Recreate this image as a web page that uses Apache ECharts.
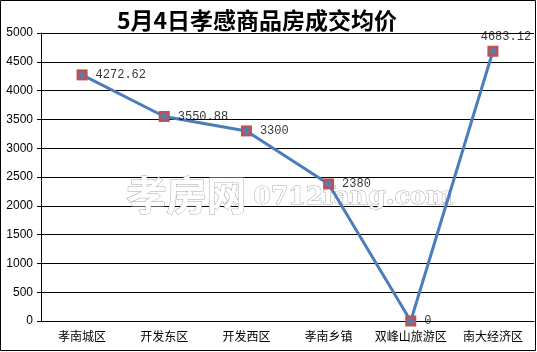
<!DOCTYPE html>
<html>
<head>
<meta charset="utf-8">
<script src="https://cdn.jsdelivr.net/npm/echarts@6/dist/echarts.min.js"></script>
<style>
  html, body { margin: 0; padding: 0; background: #fff; }
  #chart { width: 537px; height: 352px; }
</style>
</head>
<body>
<div id="chart"></div>
<script>
var titleText = '5月4日孝感商品房成交均价';
var categories = ['孝南城区', '开发东区', '开发西区', '孝南乡镇', '双峰山旅游区', '南大经济区'];
var prices = [4272.62, 3550.88, 3300, 2380, 0, 4683.12];
var yTicks = [0, 500, 1000, 1500, 2000, 2500, 3000, 3500, 4000, 4500, 5000];

var myChart = echarts.init(document.getElementById('chart'));

// last point has its label above, the rest to the right
var labelData = prices.map(function (v, i) {
  if (i === prices.length - 1) {
    return { value: v, label: { position: 'top', distance: 4, offset: [13, 0] } };
  }
  return v;
});

var option = {
  animation: false,
  backgroundColor: '#fff',
  title: {
    text: titleText,
    left: 252,
    top: 4,
    textAlign: 'center',
    textStyle: {
      fontFamily: 'Noto Sans CJK SC',
      fontSize: 23,
      fontWeight: 'bold',
      color: '#000'
    }
  },
  graphic: [
    {
      type: 'rect',
      shape: { x: 0.5, y: 0.5, width: 535, height: 350 },
      style: { fill: null, stroke: '#000', lineWidth: 1 },
      silent: true
    },
    {
      type: 'text',
      left: 126,
      top: 174,
      z: 1,
      style: {
        text: '孝房网',
        font: 'bold 40px "Noto Sans CJK SC"',
        fill: '#fff',
        stroke: '#aaa',
        lineWidth: 1
      }
    },
    {
      type: 'text',
      left: 253,
      top: 184,
      z: 1,
      style: {
        text: '0712fang.com',
        font: 'bold 25px "DejaVu Serif"',
        fill: '#fff',
        stroke: '#aaa',
        lineWidth: 1
      }
    }
  ],
  grid: {
    left: 41,
    right: 3,
    top: 33,
    bottom: 31,
    containLabel: false
  },
  xAxis: {
    type: 'category',
    data: categories,
    boundaryGap: true,
    axisLine: { lineStyle: { color: '#000', width: 1 } },
    axisTick: { length: 4, lineStyle: { color: '#000' } },
    axisLabel: {
      interval: 0,
      margin: 9,
      color: '#000',
      fontSize: 12,
      fontFamily: 'Noto Sans CJK SC'
    }
  },
  yAxis: {
    type: 'value',
    min: yTicks[0],
    max: yTicks[yTicks.length - 1],
    interval: 500,
    axisLine: { show: true, lineStyle: { color: '#000', width: 1 } },
    axisTick: { show: true, length: 4, lineStyle: { color: '#000' } },
    axisLabel: {
      margin: 8,
      color: '#000',
      fontSize: 12,
      fontFamily: 'Liberation Sans',
      formatter: function (v) { return String(v); }
    },
    splitLine: { show: true, lineStyle: { color: '#000', width: 1 } }
  },
  series: [
    {
      name: '成交均价',
      type: 'line',
      data: prices,
      z: 3,
      symbol: 'rect',
      symbolSize: 11,
      itemStyle: { color: '#c0504d', borderWidth: 0 },
      lineStyle: { color: '#4a7ebb', width: 3 }
    },
    {
      name: '成交均价',
      type: 'scatter',
      data: labelData,
      z: 4,
      symbol: 'diamond',
      symbolSize: 9,
      itemStyle: { color: '#4f81bd' },
      label: {
        show: true,
        position: 'right',
        distance: 9,
        color: '#000',
        fontSize: 12,
        fontFamily: 'Liberation Mono'
      }
    }
  ]
};

myChart.setOption(option);
</script>
</body>
</html>
